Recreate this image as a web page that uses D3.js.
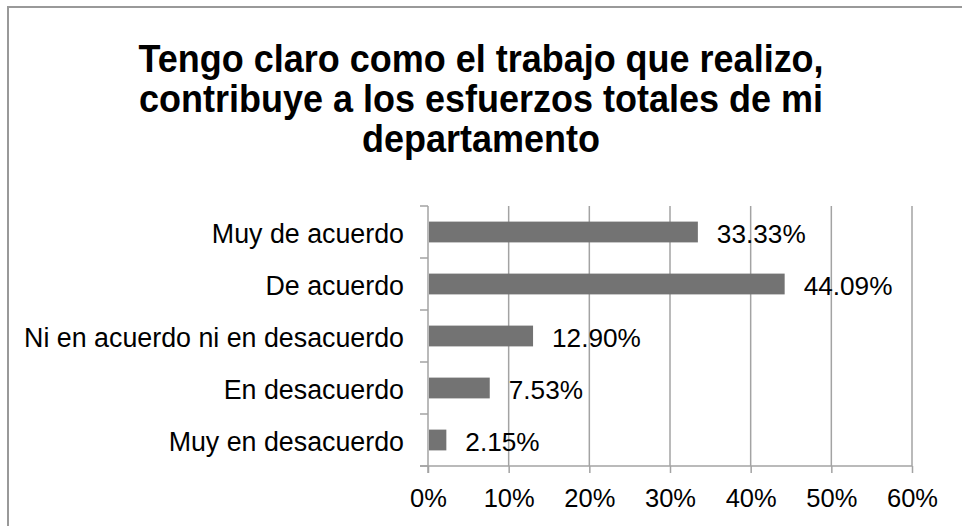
<!DOCTYPE html>
<html>
<head>
<meta charset="utf-8">
<script src="https://cdn.jsdelivr.net/npm/d3@7"></script>
<style>
  html, body { margin: 0; padding: 0; background: #fff; }
  svg { display: block; }
  text { font-family: "Liberation Sans", Arial, sans-serif; }
</style>
</head>
<body>
<svg id="chart" width="962" height="526"></svg>
<script>
const titleLines = ["Tengo claro como el trabajo que realizo,", "contribuye a los esfuerzos totales de mi", "departamento"];
const categories = ["Muy de acuerdo", "De acuerdo", "Ni en acuerdo ni en desacuerdo", "En desacuerdo", "Muy en desacuerdo"];
const values = [33.33, 44.09, 12.90, 7.53, 2.15];
const valueLabels = ["33.33%", "44.09%", "12.90%", "7.53%", "2.15%"];
const xTicks = [0, 10, 20, 30, 40, 50, 60];

const svg = d3.select("#chart");
const W = 962, H = 526;

// chart frame (left and top border)
svg.append("path")
  .attr("d", `M8,${H} L8,7 L${W},7`)
  .attr("fill", "none")
  .attr("stroke", "#999")
  .attr("stroke-width", 2);

// title (slightly stretched vertically like the reference)
const sy = 1.08;
const title = svg.append("text")
  .attr("transform", `translate(481,0) scale(1,${sy})`)
  .attr("text-anchor", "middle")
  .attr("font-weight", "bold")
  .attr("font-size", 36)
  .attr("fill", "#000");
titleLines.forEach((t, i) => {
  title.append("tspan").attr("x", 0).attr("y", (72 + i * 40) / sy).text(t);
});

const pL = 428, pR = 912, pT = 206, pB = 466;
const x = d3.scaleLinear().domain([0, 60]).range([pL, pR]);
const y = d3.scaleBand().domain(categories).range([pT, pB]).paddingInner(0.6).paddingOuter(0.3);
const yBand = d3.scaleBand().domain(categories).range([pT, pB]);

const gridColor = "#a3a3a3";

// vertical gridlines
svg.append("g").selectAll("line")
  .data(xTicks.filter(d => d > 0))
  .join("line")
  .attr("x1", d => x(d)).attr("x2", d => x(d))
  .attr("y1", pT).attr("y2", pB)
  .attr("stroke", gridColor).attr("stroke-width", 1.5);

// x axis
const xAxis = svg.append("g")
  .attr("transform", `translate(0,${pB})`)
  .call(d3.axisBottom(x).tickValues(xTicks).tickFormat(d => d + "%").tickSize(7).tickSizeOuter(0).tickPadding(16));
xAxis.select(".domain").remove();
xAxis.selectAll(".tick line").attr("stroke", gridColor).attr("stroke-width", 1.5);
xAxis.selectAll(".tick text").attr("font-size", 25.5).attr("fill", "#000")
  .attr("font-family", "'Liberation Sans', Arial, sans-serif");
svg.append("line")
  .attr("x1", 420).attr("x2", pR)
  .attr("y1", pB).attr("y2", pB)
  .attr("stroke", gridColor).attr("stroke-width", 1.5);

// y axis line and category ticks
svg.append("line")
  .attr("x1", pL).attr("x2", pL)
  .attr("y1", pT).attr("y2", pB + 7)
  .attr("stroke", gridColor).attr("stroke-width", 1.5);
const catTicks = categories.map(c => yBand(c)).concat([pB]);
svg.append("g").selectAll("line")
  .data(catTicks)
  .join("line")
  .attr("x1", 420).attr("x2", pL)
  .attr("y1", d => d).attr("y2", d => d)
  .attr("stroke", gridColor).attr("stroke-width", 1.5);

// category labels
svg.append("g").selectAll("text")
  .data(categories)
  .join("text")
  .attr("x", 404)
  .attr("y", d => yBand(d) + yBand.bandwidth() / 2)
  .attr("dy", "0.4em")
  .attr("text-anchor", "end")
  .attr("font-size", 26.8)
  .attr("fill", "#000")
  .text(d => d);

// bars
svg.append("g").selectAll("rect")
  .data(values)
  .join("rect")
  .attr("x", x(0) + 1)
  .attr("y", (d, i) => y(categories[i]))
  .attr("width", d => x(d) - x(0))
  .attr("height", y.bandwidth())
  .attr("fill", "#737373");

// data labels
svg.append("g").selectAll("text")
  .data(values)
  .join("text")
  .attr("x", d => x(d) + 20)
  .attr("y", (d, i) => yBand(categories[i]) + yBand.bandwidth() / 2)
  .attr("dy", "0.42em")
  .attr("font-size", 26.2)
  .attr("fill", "#000")
  .text((d, i) => valueLabels[i]);
</script>
</body>
</html>
